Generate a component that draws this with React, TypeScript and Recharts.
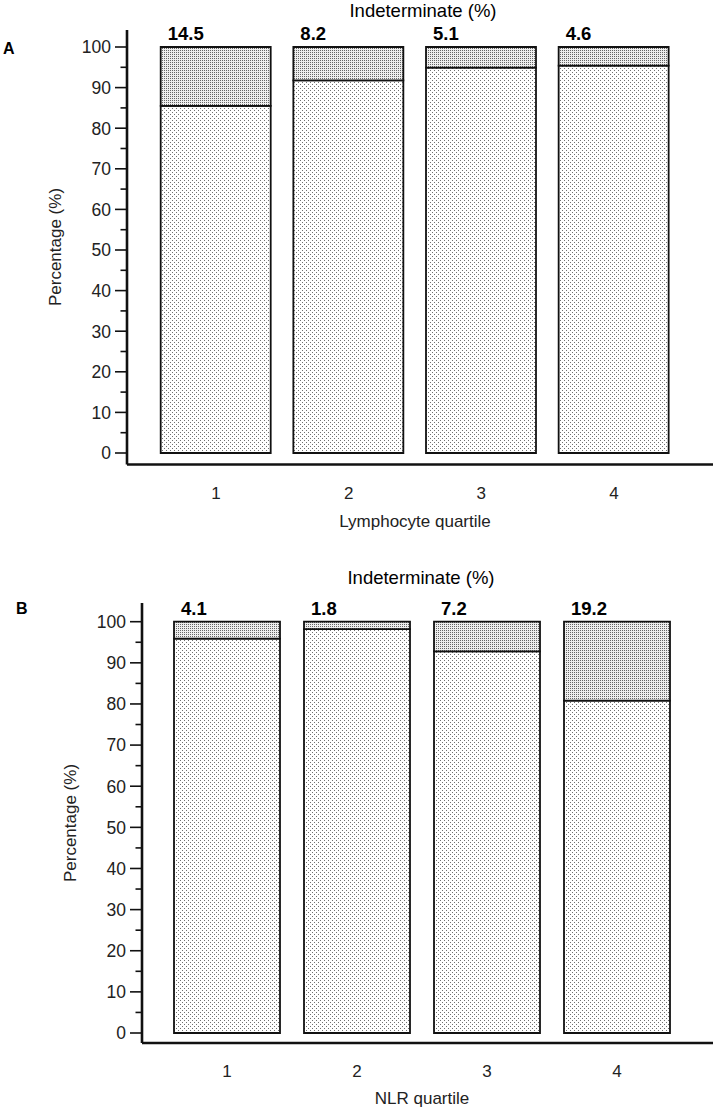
import React from 'react';
import { BarChart, Bar, XAxis, YAxis, LabelList } from 'recharts';

const quartiles = ['1', '2', '3', '4'];
const lymphDeterminate = [85.5, 91.8, 94.9, 95.4];
const lymphIndeterminate = [14.5, 8.2, 5.1, 4.6];
const nlrDeterminate = [95.9, 98.2, 92.8, 80.8];
const nlrIndeterminate = [4.1, 1.8, 7.2, 19.2];
const yTicks = [0, 5, 10, 15, 20, 25, 30, 35, 40, 45, 50, 55, 60, 65, 70, 75, 80, 85, 90, 95, 100];

const titleText = 'Indeterminate (%)';
const yLabelText = 'Percentage (%)';
const xLabelA = 'Lymphocyte quartile';
const xLabelB = 'NLR quartile';

const FONT = '"Liberation Sans", Arial, Helvetica, sans-serif';

const dataA = quartiles.map((q, i) => ({ q, det: lymphDeterminate[i], ind: lymphIndeterminate[i] }));
const dataB = quartiles.map((q, i) => ({ q, det: nlrDeterminate[i], ind: nlrIndeterminate[i] }));

const YTick = (props: any) => {
  const { x, y, payload } = props;
  const v = payload.value;
  const major = v % 10 === 0;
  return (
    <g>
      <line x1={x - (major ? 12 : 6.5)} x2={x} y1={y} y2={y} stroke="#111" strokeWidth={1.6} />
      {major && (
        <text x={x - 16} y={y} dy="0.36em" textAnchor="end" fontSize={17.5} fontFamily={FONT} fill="#222">
          {v}
        </text>
      )}
    </g>
  );
};

const XTick = (props: any) => {
  const { x, y, payload } = props;
  return (
    <text x={x} y={y + 28} dy="0.36em" textAnchor="middle" fontSize={17} fontFamily={FONT} fill="#222">
      {payload.value}
    </text>
  );
};

const TopLabel = (props: any) => {
  const { x, y, value } = props;
  return (
    <text x={Number(x) + 7} y={Number(y) - 7} fontSize={18.5} fontWeight="bold" fontFamily={FONT} fill="#000">
      {Number(value).toFixed(1)}
    </text>
  );
};

const Patterns = ({ id }: { id: string }) => (
  <defs>
    <pattern id={`light-${id}`} width={4} height={4} patternUnits="userSpaceOnUse">
      <rect width={4} height={4} fill="#ffffff" />
      <rect x={0} y={0} width={1} height={1} fill="#707070" />
      <rect x={2} y={2} width={1} height={1} fill="#707070" />
    </pattern>
    <pattern id={`dense-${id}`} width={2} height={2} patternUnits="userSpaceOnUse">
      <rect width={2} height={2} fill="#eeeeee" />
      <rect x={0} y={0} width={1} height={1} fill="#666666" />
    </pattern>
  </defs>
);

type PanelProps = {
  id: string;
  data: any[];
  height: number;
  margin: { top: number; right: number; left: number; bottom: number };
  xPad: { left: number; right: number };
  yPad: { top: number; bottom: number };
  barSize: number;
};

const Panel = ({ id, data, height, margin, xPad, yPad, barSize }: PanelProps) => (
  <BarChart width={714} height={height} data={data} margin={margin}>
    <Patterns id={id} />
    <XAxis
      dataKey="q"
      height={30}
      padding={xPad}
      tickLine={false}
      tickSize={0}
      tickMargin={0}
      interval={0}
      tick={<XTick />}
      axisLine={{ stroke: '#111', strokeWidth: 2.6 }}
    />
    <YAxis
      width={60}
      domain={[0, 100]}
      ticks={yTicks}
      interval={0}
      padding={yPad}
      tickLine={false}
      tickSize={0}
      tickMargin={0}
      tick={<YTick />}
      axisLine={{ stroke: '#111', strokeWidth: 2.6 }}
    />
    <Bar
      dataKey="det"
      stackId="s"
      fill={`url(#light-${id})`}
      stroke="#111"
      strokeWidth={1.8}
      barSize={barSize}
      isAnimationActive={false}
    />
    <Bar
      dataKey="ind"
      stackId="s"
      fill={`url(#dense-${id})`}
      stroke="#111"
      strokeWidth={1.8}
      barSize={barSize}
      isAnimationActive={false}
    >
      <LabelList dataKey="ind" content={<TopLabel />} />
    </Bar>
  </BarChart>
);

export default function App() {
  return (
    <div style={{ position: 'absolute', left: 0, top: 0, width: 714, height: 1109, background: '#fff', overflow: 'hidden' }}>
      <div style={{ position: 'absolute', left: 0, top: 0 }}>
        <Panel
          id="a"
          data={dataA}
          height={540}
          margin={{ top: 30, right: 1, left: 67, bottom: 45.5 }}
          xPad={{ left: 22.7, right: 32.7 }}
          yPad={{ top: 17, bottom: 11.5 }}
          barSize={110}
        />
      </div>
      <div style={{ position: 'absolute', left: 0, top: 540 }}>
        <Panel
          id="b"
          data={dataB}
          height={569}
          margin={{ top: 63, right: 1, left: 82, bottom: 36 }}
          xPad={{ left: 20, right: 31 }}
          yPad={{ top: 18.7, bottom: 10 }}
          barSize={106}
        />
      </div>
      <svg width={714} height={1109} style={{ position: 'absolute', left: 0, top: 0, pointerEvents: 'none' }}>
        <g fontFamily={FONT}>
          <text x={423} y={10} dy="0.36em" textAnchor="middle" fontSize={18.5} fill="#000">{titleText}</text>
          <text x={3} y={48} dy="0.36em" fontSize={16} fontWeight="bold" fill="#000">A</text>
          <text x={55} y={247} dy="0.36em" textAnchor="middle" fontSize={17} fill="#222" transform="rotate(-90 55 247)">{yLabelText}</text>
          <text x={415} y={521} dy="0.36em" textAnchor="middle" fontSize={17} fill="#222">{xLabelA}</text>
          <text x={421} y={577} dy="0.36em" textAnchor="middle" fontSize={18.5} fill="#000">{titleText}</text>
          <text x={16} y={608} dy="0.36em" fontSize={16} fontWeight="bold" fill="#000">B</text>
          <text x={70} y={823} dy="0.36em" textAnchor="middle" fontSize={17} fill="#222" transform="rotate(-90 70 823)">{yLabelText}</text>
          <text x={422} y={1098} dy="0.36em" textAnchor="middle" fontSize={17} fill="#222">{xLabelB}</text>
        </g>
      </svg>
    </div>
  );
}
